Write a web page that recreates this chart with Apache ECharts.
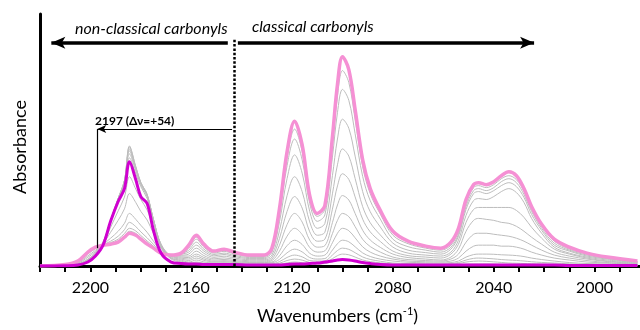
<!DOCTYPE html>
<html>
<head>
<meta charset="utf-8">
<script src="https://cdn.jsdelivr.net/npm/echarts@6/dist/echarts.min.js"></script>
<style>
  html, body { margin: 0; padding: 0; background: #fff; overflow: hidden; }
  /* 图表比窗口宽 8px, 使 1983 正好落在右边缘 */
  #chart { width: 648px; height: 330px; }
</style>
</head>
<body>
<div id="chart"></div>
<script>
// 波数网格 (cm-1)
var wavenumbers = [2220, 2210, 2205, 2201, 2198, 2195, 2192, 2189, 2186.5, 2184.5, 2182, 2180, 2177.5, 2175, 2172, 2168, 2164, 2161, 2158, 2155, 2151, 2147, 2143, 2137, 2131,
  2128, 2125, 2122, 2119, 2116, 2113, 2110, 2107, 2104, 2102, 2100, 2097.5, 2095, 2092, 2089, 2085, 2080, 2074, 2067, 2061,
  2057, 2054, 2051, 2048, 2046, 2043, 2040, 2037, 2034, 2031, 2028, 2025, 2021, 2016, 2010, 2003, 1995, 1983];

// 坐标轴刻度
var tickInterval = 10;
var labelValues = [2200, 2160, 2120, 2080, 2040, 2000];

// 第一条谱 (品红)
var magentaSpec = [0, 0.3, 1, 4, 10, 21, 45, 65, 78, 105, 87, 70, 63, 36, 13, 4, 2.5, 2, 2, 1.5, 1.5, 1.5, 1.5, 1, 1,
  1, 1, 1.5, 2, 2, 2.5, 3, 4, 5, 6, 6.5, 6, 5, 3.5, 2.5, 1.5, 1, 1, 1, 1,
  1, 1, 1, 1, 1, 1, 1, 1, 1, 1, 1, 1, 1, 1, 0.5, 0.5, 0.5, 0.5];

// 最后一条谱 (粉色)
var pinkSpec = [0, 1.5, 5, 14, 19, 21, 22, 24, 29, 33, 31, 27, 22, 18, 13, 11, 13, 21, 31, 22, 15, 17, 14, 11, 11,
  18, 58, 115, 146, 122, 71, 53, 61, 130, 183, 211, 198, 158, 107, 78, 56, 35, 25, 20, 18,
  24, 38, 67, 82, 84, 82, 85, 91, 95, 91, 78, 60, 42, 27, 19, 13, 9, 5];

// 中间的灰色谱
var gray01 = [0, 0.5, 1.5, 5, 11, 22, 46, 68, 86, 121, 100, 84, 72, 45, 19, 7, 4, 2.5, 3, 2.5, 2, 2, 1.5, 1.2, 1.2,
  1.3, 1.8, 3.1, 4, 3.3, 2.2, 2, 2.5, 4.3, 6, 7, 6.5, 5.2, 3.5, 2.6, 1.9, 1, 1, 1, 1,
  1, 1.3, 1.8, 2, 2, 2, 1.9, 1.7, 1.5, 1.4, 1.3, 1.1, 1, 0.8, 0.6, 0.5, 0.4, 0.3];
var gray02 = [0, 0.5, 1.5, 5, 11, 22, 46, 68, 86, 120, 100, 84, 72, 46, 20, 8, 5, 3, 4, 3, 2.2, 2.4, 2, 1.5, 1.5,
  1.6, 2.8, 5.5, 7, 5.9, 3.5, 3, 3.5, 7.4, 10.4, 12, 11.3, 9, 6.1, 4.4, 3.2, 2, 1.6, 1.5, 1.5,
  1.8, 2.5, 4, 4.8, 5, 4.7, 4.2, 3.6, 3, 2.8, 2.5, 2.2, 1.9, 1.6, 1.2, 1, 0.8, 0.5];
var gray03 = [0, 0.5, 1.5, 5.5, 12, 23, 46, 68, 86, 118, 99, 84, 72, 47, 21, 8, 6, 4, 6, 4.2, 3, 3.3, 2.7, 2, 2,
  2.2, 4.4, 8.6, 11, 9.2, 5.5, 5, 5.2, 11, 15.6, 18, 16.8, 13.4, 9.1, 6.6, 4.8, 3, 2.5, 2.2, 2,
  2.5, 3.5, 6, 7.7, 8, 7.7, 7.2, 6.5, 6, 5.6, 5, 4.3, 3.6, 3, 2.2, 1.6, 1.2, 0.8];
var gray04 = [0, 0.5, 1.5, 6, 12, 23, 46, 68, 86, 116, 98, 83, 71, 47, 21, 9, 7, 5.5, 8, 5.7, 4, 4.4, 3.6, 2.9, 2.9,
  3.2, 6.7, 13.3, 17, 14.2, 8.5, 7, 7.5, 16, 22.5, 26, 24.4, 19.4, 13.2, 9.6, 6.9, 5, 3.8, 3.2, 3,
  3.5, 5, 9, 11.5, 12, 12, 11.8, 11.3, 11, 10.5, 9.5, 8, 6.5, 5, 3.5, 2.5, 2, 1];
var gray05 = [0, 0.5, 2, 6.5, 13, 24, 46, 67, 85, 113, 96, 82, 70, 47, 22, 10, 8, 7, 10, 7, 4.8, 5.4, 4.5, 3.5, 3.5,
  4, 10.3, 20.5, 26, 21.7, 12.8, 10, 11, 23.4, 33, 38, 35.6, 28.4, 19.3, 14, 10, 7, 5, 4.3, 4,
  5, 8, 15, 20, 21, 21, 21, 20, 20, 19, 17, 14, 11, 8, 6, 4, 3, 1.5];
var gray06 = [0, 0.5, 2, 7, 13, 24, 45, 66, 83, 109, 93, 80, 68, 46, 22, 10, 9, 8.5, 12, 8.6, 5.9, 6.6, 5.5, 4.3, 4.3,
  5.5, 15, 30, 38, 31.7, 18.6, 14, 15.3, 32.6, 46, 53, 49.7, 39.7, 26.9, 19.6, 14, 9, 6.5, 5.5, 5,
  7, 12, 24, 32, 33, 33, 32, 31, 30, 28, 25, 21, 16, 11, 8, 5.5, 3.5, 2];
var gray07 = [0, 0.8, 2.8, 8.8, 14.5, 23, 39, 55.5, 69.5, 90, 77.5, 67, 56.5, 39, 19.8, 10.3, 10, 10, 15, 10.5, 7.2, 8.2, 6.7, 5.3, 5.3,
  7, 21, 41.7, 53, 44.3, 26, 19, 20.5, 43.7, 61.5, 71, 66.5, 53, 36, 26.2, 18.8, 12, 8.5, 7, 6,
  9, 17, 35, 46, 48, 47, 46, 44, 43, 40, 35, 29, 22, 14, 10, 7, 4.5, 2.5];
var gray08 = [0, 1, 3.4, 10.3, 15.8, 22.6, 34, 46, 57.6, 73, 64, 55, 46.4, 32.8, 17.8, 10.5, 10.9, 12, 18, 12.8, 8.7, 9.9, 8.1, 6.4, 6.4,
  8.8, 27.8, 55, 70, 58.4, 34.5, 25, 27, 57.3, 80.7, 93, 87.3, 69.7, 47.2, 34.4, 24.7, 15, 10.5, 9, 8,
  12, 22, 44, 57, 59, 59, 59, 59, 59, 56, 49, 39, 28, 17, 12, 8, 5, 3];
var gray09 = [0, 1.2, 4.2, 12.2, 17.4, 21.8, 28, 35, 43, 53, 47, 41, 34, 25, 15.3, 10.7, 12, 14, 21, 15, 10.2, 11.6, 9.5, 7.5, 7.5,
  11, 35.7, 70.8, 90, 75, 44.4, 31, 34, 72.7, 102, 118, 110.7, 88.3, 59.8, 43.6, 31.3, 19, 13, 11, 10,
  14, 26, 51, 66, 68, 67, 70, 75, 78, 74, 64, 48, 33, 19, 13, 9, 6, 3.5];
var gray10 = [0, 1.4, 4.6, 13, 18.2, 21.4, 25, 30, 36.6, 44, 39.7, 34.4, 28.4, 21.9, 14.3, 10.9, 12.4, 16, 24, 17, 11.6, 13, 10.8, 8.5, 8.5,
  13.8, 44.5, 88, 112, 93.6, 55, 38, 42.8, 91, 128, 148, 138.8, 110.8, 75, 54.7, 39.3, 23, 16, 13.5, 12,
  17, 30, 57, 73, 75, 73, 76, 81, 84, 80, 69, 52, 36, 21, 15, 10, 7, 4];
var gray11 = [0, 1.4, 4.8, 13.5, 18.6, 21.2, 23.6, 27, 32.8, 38, 35.3, 30.7, 25.2, 20, 13.6, 11, 12.7, 18, 27, 19, 13, 14.8, 12.2, 9.6, 9.6,
  15.8, 51, 101, 128, 107, 63, 45, 51.5, 109.7, 154.5, 178, 167, 133.4, 90.3, 65.8, 47.3, 27, 19.5, 16, 14,
  19, 32, 60, 76, 78, 76, 79, 85, 88, 84, 72, 55, 38, 23, 16, 11, 7.5, 4];
var gray12 = [0, 1.5, 4.9, 13.8, 18.8, 21.1, 22.7, 25.3, 30.6, 35, 32.9, 28.6, 23.4, 18.8, 13.3, 11, 12.9, 20, 29, 20.7, 14, 16, 13, 10.3, 10.3,
  17, 54.8, 108.7, 138, 115.3, 67.5, 50, 57, 121.4, 171, 197, 185, 147.6, 100, 72.9, 52.3, 31, 22.5, 18, 16,
  21, 35, 63, 79, 81, 79, 82, 88, 91, 87, 75, 57, 40, 25, 17, 12, 8, 4.5];

var grayList = [gray01, gray02, gray03, gray04, gray05, gray06, gray07, gray08, gray09, gray10, gray11, gray12];

// 标注位置 (波数)
var freeCO = 2143;
var shiftedBand = 2197.3;

var fontName = "Lato, 'Open Sans', sans-serif";

function toPairs(arr) {
  return wavenumbers.map(function (w, i) {
    return [w, arr[i]];
  });
}

var chart = echarts.init(document.getElementById("chart"), null, { renderer: "canvas" });

var series = [];
// 灰色谱
grayList.forEach(function (arr, i) {
  series.push({
    name: "gray" + (i + 1),
    type: "line",
    data: toPairs(arr),
    showSymbol: false,
    smooth: 0.35,
    silent: true,
    z: 2,
    lineStyle: { color: "#bdbdbd", width: 1 },
  });
});
// 粉色 (最后)
series.push({
  name: "last",
  type: "line",
  data: toPairs(pinkSpec),
  showSymbol: false,
  smooth: 0.35,
  silent: true,
  z: 3,
  lineStyle: { color: "#f590d4", width: 3.5 },
});
// 品红 (第一条)
series.push({
  name: "first",
  type: "line",
  data: toPairs(magentaSpec),
  showSymbol: false,
  smooth: 0.35,
  silent: true,
  z: 4,
  lineStyle: { color: "#d000d0", width: 3 },
});
// 箭头和虚线标注
series.push({
  name: "notes",
  type: "line",
  data: [],
  silent: true,
  z: 5,
  markLine: {
    silent: true,
    animation: false,
    label: { show: false },
    emphasis: { disabled: true },
    data: [
      [
        { coord: [freeCO, 228], symbol: "none", lineStyle: { color: "#000", width: 2.5, type: [2.5, 1.8] } },
        { coord: [freeCO, 0], symbol: "none" },
      ],
      [
        { coord: [2145.5, 225], symbol: "none", lineStyle: { color: "#000", width: 3.5, type: "solid" } },
        { coord: [2215.5, 225], symbol: "arrow", symbolSize: [9, 14] },
      ],
      [
        { coord: [2141.5, 225], symbol: "none", lineStyle: { color: "#000", width: 3.5, type: "solid" } },
        { coord: [2024, 225], symbol: "arrow", symbolSize: [9, 14] },
      ],
      [
        { coord: [2143.8, 138], symbol: "none", lineStyle: { color: "#000", width: 1.2, type: "solid" } },
        { coord: [shiftedBand, 138], symbol: "arrow", symbolSize: [6, 9] },
      ],
      [
        { coord: [shiftedBand, 138], symbol: "none", lineStyle: { color: "#000", width: 1.2, type: "solid" } },
        { coord: [shiftedBand, 18], symbol: "none" },
      ],
    ],
  },
});

var option = {
  animation: false,
  backgroundColor: "#fff",
  grid: { left: 40, right: 0, top: 14, bottom: 62, containLabel: false },
  xAxis: {
    type: "value",
    inverse: true,
    min: 1980,
    max: 2220,
    interval: tickInterval,
    axisLine: { show: true, onZero: false, lineStyle: { color: "#000", width: 3 } },
    axisTick: { show: true, length: 6, lineStyle: { color: "#000", width: 2 } },
    axisLabel: {
      fontSize: 16,
      color: "#000",
      margin: 14,
      fontFamily: fontName,
      hideOverlap: false,
      formatter: function (value) {
        return labelValues.indexOf(value) >= 0 ? String(value) : "";
      },
    },
    splitLine: { show: false },
    name: "{t|Wavenumbers (cm}{s|-1}{t|)}",
    nameLocation: "middle",
    nameGap: 40,
    nameTextStyle: {
      padding: [0, 10, 0, 0],
      rich: {
        t: { fontSize: 18, fontFamily: fontName, color: "#000", lineHeight: 20 },
        s: { fontSize: 11, fontFamily: fontName, color: "#000", verticalAlign: "top", lineHeight: 20 },
      },
    },
  },
  yAxis: {
    type: "value",
    min: 0,
    max: 254,
    axisLine: { show: true, lineStyle: { color: "#000", width: 3 } },
    axisTick: { show: false },
    axisLabel: { show: false },
    splitLine: { show: false },
  },
  graphic: [
    {
      type: "text",
      x: 20,
      y: 147,
      rotation: Math.PI / 2,
      style: { text: "Absorbance", font: "18px " + fontName, fill: "#000", align: "center", verticalAlign: "middle" },
    },
    {
      type: "text",
      left: 75,
      top: 21,
      style: { text: "non-classical carbonyls", font: "italic 16px " + fontName, fill: "#000" },
    },
    {
      type: "text",
      left: 252,
      top: 19,
      style: { text: "classical carbonyls", font: "italic 16px " + fontName, fill: "#000" },
    },
    {
      type: "text",
      left: 95,
      top: 115,
      style: { text: "2197 (\u0394\u03bd=+54)", font: "bold 12px " + fontName, fill: "#000" },
    },
  ],
  series: series,
};

chart.setOption(option);
</script>
</body>
</html>
